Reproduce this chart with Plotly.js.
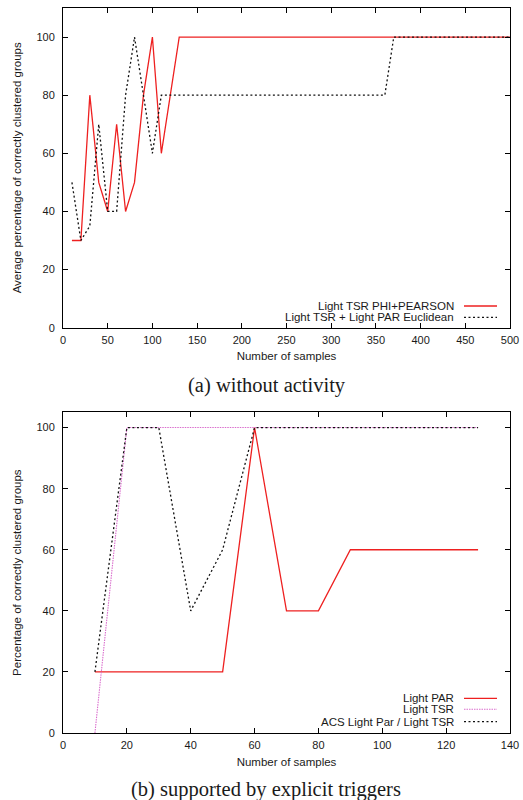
<!DOCTYPE html>
<html>
<head>
<meta charset="utf-8">
<script src="https://cdn.plot.ly/plotly-3.0.1.min.js"></script>
<style>
html,body{margin:0;padding:0;background:#fff;}
#chart{width:523px;height:800px;}
</style>
</head>
<body>
<div id="chart"></div>
<script>
// ---- Panel (a): without activity ----
const aRedX   = [10, 20, 30, 40, 50, 60, 70, 80, 90, 100, 110, 130, 500];
const aRedY   = [30, 30, 80, 50, 40, 70, 40, 50, 80, 100, 60, 100, 100];
const aBlackX = [10, 20, 30, 40, 50, 60, 70, 80, 90, 100, 110, 360, 370, 500];
const aBlackY = [50, 30, 35, 70, 40, 40, 80, 100, 80, 60, 80, 80, 100, 100];
const aNames  = ["Light TSR PHI+PEARSON", "Light TSR + Light PAR Euclidean"];
const aXTicks = [0, 50, 100, 150, 200, 250, 300, 350, 400, 450, 500];
const aYTicks = [0, 20, 40, 60, 80, 100];

// ---- Panel (b): supported by explicit triggers ----
const bX      = [10, 20, 30, 40, 50, 60, 70, 80, 90, 100, 110, 120, 130];
const bParY   = [20, 20, 20, 20, 20, 100, 40, 40, 60, 60, 60, 60, 60];
const bTsrY   = [0, 100, 100, 100, 100, 100, 100, 100, 100, 100, 100, 100, 100];
const bAcsY   = [20, 100, 100, 40, 60, 100, 100, 100, 100, 100, 100, 100, 100];
const bNames  = ["Light PAR", "Light TSR", "ACS Light Par / Light TSR"];
const bXTicks = [0, 20, 40, 60, 80, 100, 120, 140];
const bYTicks = [0, 20, 40, 60, 80, 100];

const captions = ["(a) without activity", "(b) supported by explicit triggers"];

const RED = "rgb(238,32,32)";
const PINK = "rgb(218,110,205)";
const BLACK = "#111";
const SANS = "Liberation Sans, Arial, sans-serif";
const SERIF = "Liberation Serif, Times New Roman, serif";

const W = 523, H = 800;
const M = {l: 63, r: 13, t: 8, b: 67};
const plotW = W - M.l - M.r, plotH = H - M.t - M.b;
const px2x = px => (px - M.l) / plotW;
const py2y = py => (H - M.b - py) / plotH;

const traces = [
  {x: aRedX, y: aRedY, xaxis: "x", yaxis: "y", mode: "lines",
   line: {color: RED, width: 1.3}, name: aNames[0], showlegend: false},
  {x: aBlackX, y: aBlackY, xaxis: "x", yaxis: "y", mode: "lines",
   line: {color: BLACK, width: 1.3, dash: "2px,2.5px"}, name: aNames[1], showlegend: false},
  {x: bX, y: bParY, xaxis: "x2", yaxis: "y2", mode: "lines",
   line: {color: RED, width: 1.3}, name: bNames[0], showlegend: false},
  {x: bX, y: bTsrY, xaxis: "x2", yaxis: "y2", mode: "lines",
   line: {color: PINK, width: 1.1, dash: "1.5px,1px"}, name: bNames[1], showlegend: false},
  {x: bX, y: bAcsY, xaxis: "x2", yaxis: "y2", mode: "lines",
   line: {color: BLACK, width: 1.3, dash: "2px,2.5px"}, name: bNames[2], showlegend: false}
];

function axisBase(extra) {
  return Object.assign({
    showline: true, linecolor: "#000", linewidth: 1, mirror: "ticks",
    ticks: "inside", ticklen: 5, tickwidth: 1, tickcolor: "#000",
    showgrid: false, zeroline: false,
    tickfont: {family: SANS, size: 11, color: "#1a1a1a"},
    tickmode: "array"
  }, extra);
}

const topDom = [py2y(327.7), 1];
const botDom = [0, py2y(412.3)];

const layout = {
  width: W, height: H,
  margin: M,
  paper_bgcolor: "#fff", plot_bgcolor: "#fff",
  showlegend: false,
  xaxis: axisBase({domain: [0, 1], anchor: "y", range: [0, 500], tickvals: aXTicks,
    ticklabelstandoff: 2,
    title: {text: "Number of samples", font: {family: SANS, size: 11.5, color: "#1a1a1a"}, standoff: 7}}),
  yaxis: axisBase({domain: topDom, anchor: "x", range: [0, 110], tickvals: aYTicks,
    ticklabelstandoff: 5,
    title: {text: "Average percentage of correctly clustered groups", font: {family: SANS, size: 11.5, color: "#1a1a1a"}, standoff: 12}}),
  xaxis2: axisBase({domain: [0, 1], anchor: "y2", range: [0, 140], tickvals: bXTicks,
    ticklabelstandoff: 2,
    title: {text: "Number of samples", font: {family: SANS, size: 11.5, color: "#1a1a1a"}, standoff: 7}}),
  yaxis2: axisBase({domain: botDom, anchor: "x2", range: [0, 105], tickvals: bYTicks,
    ticklabelstandoff: 5,
    title: {text: "Percentage of correctly clustered groups", font: {family: SANS, size: 11.5, color: "#1a1a1a"}, standoff: 12}}),
  annotations: [],
  shapes: []
};

// gnuplot-style legends: right-aligned text, line sample to the right
const legTextRight = px2x(456);
const sampleL = px2x(464), sampleR = px2x(497);
function addLegend(names, rowsPx, styles) {
  names.forEach((n, i) => {
    layout.annotations.push({
      xref: "paper", yref: "paper", x: legTextRight, y: py2y(rowsPx[i]),
      xanchor: "right", yanchor: "middle", showarrow: false, text: n,
      font: {family: SANS, size: 11.5, color: "#1a1a1a"}
    });
    layout.shapes.push({
      type: "line", xref: "paper", yref: "paper",
      x0: sampleL, x1: sampleR, y0: py2y(rowsPx[i]), y1: py2y(rowsPx[i]),
      line: styles[i]
    });
  });
}
addLegend(aNames, [306, 317.3], [traces[0].line, traces[1].line]);
addLegend(bNames, [698.3, 709.3, 721.7], [traces[2].line, traces[3].line, traces[4].line]);

// captions
layout.annotations.push({
  xref: "paper", yref: "paper", x: px2x(266.5), y: py2y(385), xanchor: "center", yanchor: "middle",
  showarrow: false, text: captions[0], font: {family: SERIF, size: 20.5, color: "#1a1a1a"}
});
layout.annotations.push({
  xref: "paper", yref: "paper", x: px2x(266), y: py2y(789), xanchor: "center", yanchor: "middle",
  showarrow: false, text: captions[1], font: {family: SERIF, size: 20.5, color: "#1a1a1a"}
});

Plotly.newPlot("chart", traces, layout, {displayModeBar: false, staticPlot: true});
</script>
</body>
</html>
